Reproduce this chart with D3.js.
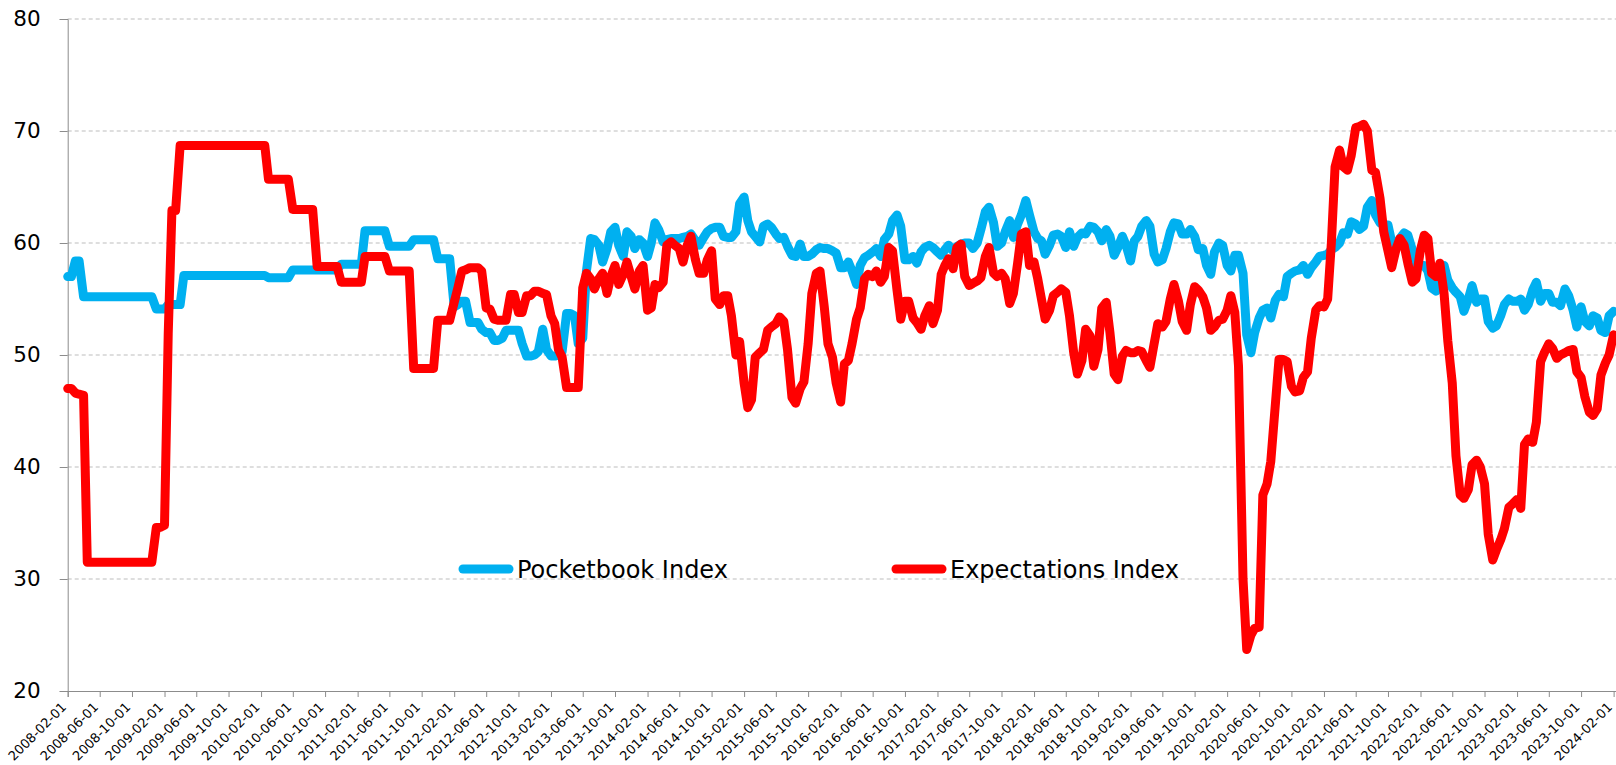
<!DOCTYPE html>
<html><head><meta charset="utf-8">
<script src="https://cdn.jsdelivr.net/npm/d3@7"></script>
<style>body{margin:0;background:#fff}svg{display:block}</style>
</head><body>
<svg id="chart" width="1616" height="765"></svg>
<script>
// ---- data (semi-monthly readings: 1st and 15th of each month, 2008-02-01 .. 2024-02-01) ----
const seriesNames = ["Pocketbook Index", "Expectations Index"];
const seriesColors = ["#00B0F0", "#FF0000"];
const yTicks = [20, 30, 40, 50, 60, 70, 80];
const xTickLabels = ["2008-02-01","2008-06-01","2008-10-01","2009-02-01","2009-06-01","2009-10-01","2010-02-01","2010-06-01","2010-10-01","2011-02-01","2011-06-01","2011-10-01","2012-02-01","2012-06-01","2012-10-01","2013-02-01","2013-06-01","2013-10-01","2014-02-01","2014-06-01","2014-10-01","2015-02-01","2015-06-01","2015-10-01","2016-02-01","2016-06-01","2016-10-01","2017-02-01","2017-06-01","2017-10-01","2018-02-01","2018-06-01","2018-10-01","2019-02-01","2019-06-01","2019-10-01","2020-02-01","2020-06-01","2020-10-01","2021-02-01","2021-06-01","2021-10-01","2022-02-01","2022-06-01","2022-10-01","2023-02-01","2023-06-01","2023-10-01","2024-02-01"];

const pocketbook = [
/*2008*/ 57.0,57.0,58.4,58.4,55.2,55.2,55.2,55.2,55.2,55.2,55.2,55.2,55.2,55.2,55.2,55.2,55.2,55.2,55.2,55.2,55.2,55.2,
/*2009*/ 54.1,54.1,54.1,54.5,54.5,54.5,54.5,57.1,57.1,57.1,57.1,57.1,57.1,57.1,57.1,57.1,57.1,57.1,57.1,57.1,57.1,57.1,57.1,57.1,
/*2010*/ 57.1,57.1,57.1,57.1,56.9,56.9,56.9,56.9,56.9,56.9,57.6,57.6,57.6,57.6,57.6,57.6,57.6,57.6,57.6,57.6,57.6,57.6,58.1,58.1,
/*2011*/ 58.1,58.1,58.1,58.1,61.1,61.1,61.1,61.1,61.1,61.1,59.7,59.7,59.7,59.7,59.7,59.7,60.3,60.3,60.3,60.3,60.3,60.3,58.6,58.6,
/*2012*/ 58.6,58.6,54.3,54.5,54.8,54.8,52.9,52.9,52.9,52.3,52.0,52.0,51.3,51.3,51.5,52.2,52.2,52.2,52.2,51.0,49.9,49.9,50.0,50.3,
/*2013*/ 52.3,50.5,49.9,49.9,50.0,50.3,53.7,53.7,53.5,51.0,51.5,57.5,60.4,60.3,59.8,58.3,59.5,61.0,61.4,59.8,58.8,61.0,60.6,59.5,
/*2014*/ 60.3,60.0,58.8,60.0,61.8,61.2,60.1,60.3,60.4,60.4,60.4,60.5,60.6,60.8,60.2,59.8,60.5,61.0,61.3,61.4,61.4,60.6,60.5,60.5,
/*2015*/ 61.0,63.5,64.1,62.0,61.0,60.6,60.1,61.5,61.7,61.4,60.8,60.4,60.5,59.7,58.9,58.8,59.9,58.8,58.8,59.0,59.4,59.6,59.5,59.5,
/*2016*/ 59.3,59.1,57.8,57.8,58.3,57.5,56.3,58.0,58.7,58.9,59.2,59.5,58.8,60.3,60.8,62.0,62.5,61.5,58.5,58.5,58.8,58.2,59.2,59.6,
/*2017*/ 59.8,59.6,59.2,58.9,59.4,59.8,59.3,59.7,59.9,60.0,60.0,59.5,60.0,61.2,62.8,63.2,61.8,59.7,60.0,61.0,62.0,60.5,61.7,62.5,
/*2018*/ 63.8,62.5,61.0,60.4,60.2,59.0,59.8,60.7,60.8,60.6,59.6,61.0,59.7,60.5,60.9,60.8,61.5,61.4,61.0,60.2,61.2,60.6,58.9,59.6,
/*2019*/ 60.6,59.8,58.4,60.2,60.6,61.5,62.0,61.5,59.0,58.3,58.5,59.5,61.0,61.8,61.7,60.8,60.8,61.2,60.6,59.4,59.5,58.0,57.2,59.2,
/*2020*/ 60.0,59.8,58.0,57.5,58.9,58.9,57.3,51.8,50.2,52.0,53.3,54.0,54.2,53.3,54.9,55.4,55.2,57.0,57.3,57.5,57.6,58.0,57.2,57.8,
/*2021*/ 58.3,58.8,58.9,59.0,59.4,59.6,60.0,60.9,60.8,61.9,61.7,61.2,61.5,63.2,63.8,62.5,61.8,61.6,61.6,60.1,59.7,60.4,60.9,60.7,
/*2022*/ 59.4,58.1,58.0,58.0,57.5,56.0,55.7,57.6,58.0,56.7,56.0,55.6,55.2,53.9,55.0,56.2,54.7,55.0,55.0,53.0,52.4,52.6,53.5,54.5,
/*2023*/ 55.0,54.8,54.8,55.0,54.0,54.5,55.8,56.5,54.8,55.5,55.5,54.7,54.7,54.4,55.9,55.3,54.0,52.5,54.3,53.0,52.6,53.5,53.3,52.2,
/*2024*/ 52.0,53.5,53.9
];

const expectations = [
/*2008*/ 47.0,47.0,46.6,46.5,46.4,31.5,31.5,31.5,31.5,31.5,31.5,31.5,31.5,31.5,31.5,31.5,31.5,31.5,31.5,31.5,31.5,31.5,
/*2009*/ 34.6,34.6,34.8,51.9,62.9,62.9,68.7,68.7,68.7,68.7,68.7,68.7,68.7,68.7,68.7,68.7,68.7,68.7,68.7,68.7,68.7,68.7,68.7,68.7,
/*2010*/ 68.7,68.7,68.7,68.7,65.7,65.7,65.7,65.7,65.7,65.7,63.0,63.0,63.0,63.0,63.0,63.0,57.9,57.9,57.9,57.9,57.9,57.9,56.5,56.5,
/*2011*/ 56.5,56.5,56.5,56.5,58.8,58.8,58.8,58.8,58.8,58.8,57.5,57.5,57.5,57.5,57.5,57.5,48.8,48.8,48.8,48.8,48.8,48.8,53.1,53.1,
/*2012*/ 53.1,53.1,54.7,56.0,57.5,57.6,57.8,57.8,57.8,57.5,54.2,54.1,53.2,53.1,53.1,53.1,55.4,55.4,53.8,53.8,55.3,55.3,55.7,55.7,
/*2013*/ 55.5,55.4,53.5,52.8,50.5,49.8,47.1,47.1,47.1,47.1,56.0,57.3,56.8,55.9,56.8,57.3,55.5,57.0,58.0,56.3,57.2,58.3,57.0,55.9,
/*2014*/ 57.5,58.0,54.0,54.2,56.3,56.0,56.5,59.8,60.1,59.8,59.5,58.3,59.8,60.6,58.5,57.3,57.3,58.5,59.3,55.0,54.5,55.3,55.3,53.5,
/*2015*/ 50.0,51.2,47.5,45.3,46.0,49.8,50.2,50.5,52.2,52.5,52.8,53.4,53.0,50.5,46.2,45.7,47.0,47.6,51.0,55.5,57.3,57.5,54.3,51.0,
/*2016*/ 49.8,47.5,45.8,49.2,49.5,51.0,53.2,54.2,56.8,57.2,57.0,57.5,56.5,57.0,59.6,59.3,55.8,53.2,54.8,54.8,53.3,52.9,52.3,53.5,
/*2017*/ 54.4,52.8,54.0,57.2,58.0,58.6,57.7,59.6,59.9,57.0,56.2,56.4,56.6,56.9,58.8,59.6,57.3,57.0,57.3,56.8,54.6,55.5,58.2,60.8,
/*2018*/ 61.0,58.0,58.3,56.8,55.0,53.2,54.0,55.3,55.6,55.9,55.6,53.5,50.2,48.3,49.5,52.3,51.7,49.0,50.5,54.2,54.7,52.0,48.3,47.8,
/*2019*/ 49.9,50.4,50.2,50.2,50.4,50.3,49.5,48.9,51.0,52.8,52.5,53.0,55.0,56.3,54.8,53.0,52.2,54.5,56.1,55.8,55.2,54.2,52.2,52.5,
/*2020*/ 53.1,53.2,54.0,55.3,53.8,49.0,30.0,23.7,25.0,25.6,25.7,37.5,38.5,40.5,45.5,49.6,49.6,49.4,47.2,46.7,46.8,48.0,48.5,51.5,
/*2021*/ 54.0,54.4,54.3,55.0,60.0,66.8,68.3,66.8,66.5,67.8,70.3,70.4,70.6,70.0,66.5,66.3,64.0,61.0,59.3,57.8,59.5,60.4,59.8,58.2,
/*2022*/ 56.5,56.8,59.4,60.7,60.4,57.3,57.0,58.2,55.5,51.3,47.5,41.0,37.5,37.2,38.0,40.2,40.6,40.0,38.5,34.0,31.7,32.6,33.5,34.5,
/*2023*/ 36.4,36.7,37.1,36.3,42.0,42.5,42.2,44.0,49.4,50.2,51.0,50.6,49.7,50.0,50.2,50.4,50.5,48.5,48.0,46.3,44.9,44.6,45.2,48.2,
/*2024*/ 49.3,50.0,51.8
];

(function () {
  // sampling dates (1st and 15th of each month)
  const dates = [];
  for (let m = 0; m < 192; m++) {
    dates.push(new Date(2008, 1 + m, 1));
    dates.push(new Date(2008, 1 + m, 15));
  }
  dates.push(new Date(2024, 1, 1));

  const svg = d3.select("#chart");
  const parse = d3.timeParse("%Y-%m-%d");
  const PL = 67.7, PR = 1616, PT = 19, PB = 691;

  const x = d3.scaleTime()
    .domain([new Date(2008, 1, 1), new Date(2024, 1, 10)])
    .range([PL, PR]);
  const y = d3.scaleLinear().domain([20, 80]).range([PB, PT]);

  // gridlines
  svg.append("g").selectAll("line")
    .data(yTicks.filter(v => v > 20))
    .join("line")
    .attr("x1", PL).attr("x2", PR)
    .attr("y1", d => y(d)).attr("y2", d => y(d))
    .attr("stroke", "#bdbdbd").attr("stroke-width", 1)
    .attr("stroke-dasharray", "4,3");

  // y axis
  const yAxis = svg.append("g")
    .attr("transform", `translate(${PL},0)`)
    .call(d3.axisLeft(y).tickValues(yTicks).tickSize(8).tickPadding(19).tickFormat(d3.format("d")));
  yAxis.selectAll("text").attr("font-family", "DejaVu Sans").attr("font-size", "21.5px").attr("fill", "#000");

  // x axis
  const xAxis = svg.append("g")
    .attr("transform", `translate(0,${PB})`)
    .call(d3.axisBottom(x).tickValues(xTickLabels.map(parse)).tickSize(6).tickFormat(d3.timeFormat("%Y-%m-%d")));
  xAxis.selectAll("text")
    .attr("font-family", "DejaVu Sans").attr("font-size", "13px").attr("fill", "#000")
    .attr("text-anchor", "end")
    .attr("dy", null).attr("y", null)
    .attr("transform", "translate(-1,17) rotate(-45)");

  [yAxis, xAxis].forEach(a => {
    a.select(".domain").attr("stroke", "#8c8c8c");
    a.selectAll(".tick line").attr("stroke", "#8c8c8c");
  });

  // lines
  const series = [pocketbook, expectations];
  const line = d3.line().x((d, i) => x(dates[i])).y(d => y(d));
  series.forEach((vals, k) => {
    svg.append("path")
      .datum(vals)
      .attr("fill", "none")
      .attr("stroke", seriesColors[k])
      .attr("stroke-width", 9)
      .attr("stroke-linejoin", "round")
      .attr("stroke-linecap", "round")
      .attr("d", line);
  });

  // legend
  const legendPos = [{x: 459, y: 569}, {x: 892, y: 569}];
  seriesNames.forEach((name, k) => {
    const g = svg.append("g").attr("transform", `translate(${legendPos[k].x},${legendPos[k].y})`);
    g.append("line").attr("x1", 4).attr("x2", 50).attr("y1", 0).attr("y2", 0)
      .attr("stroke", seriesColors[k]).attr("stroke-width", 9).attr("stroke-linecap", "round");
    g.append("text").attr("x", 58).attr("y", 0).attr("dy", "0.36em")
      .attr("font-family", "DejaVu Sans").attr("font-size", "24px").attr("fill", "#000")
      .text(name);
  });
})();
</script>
</body></html>
